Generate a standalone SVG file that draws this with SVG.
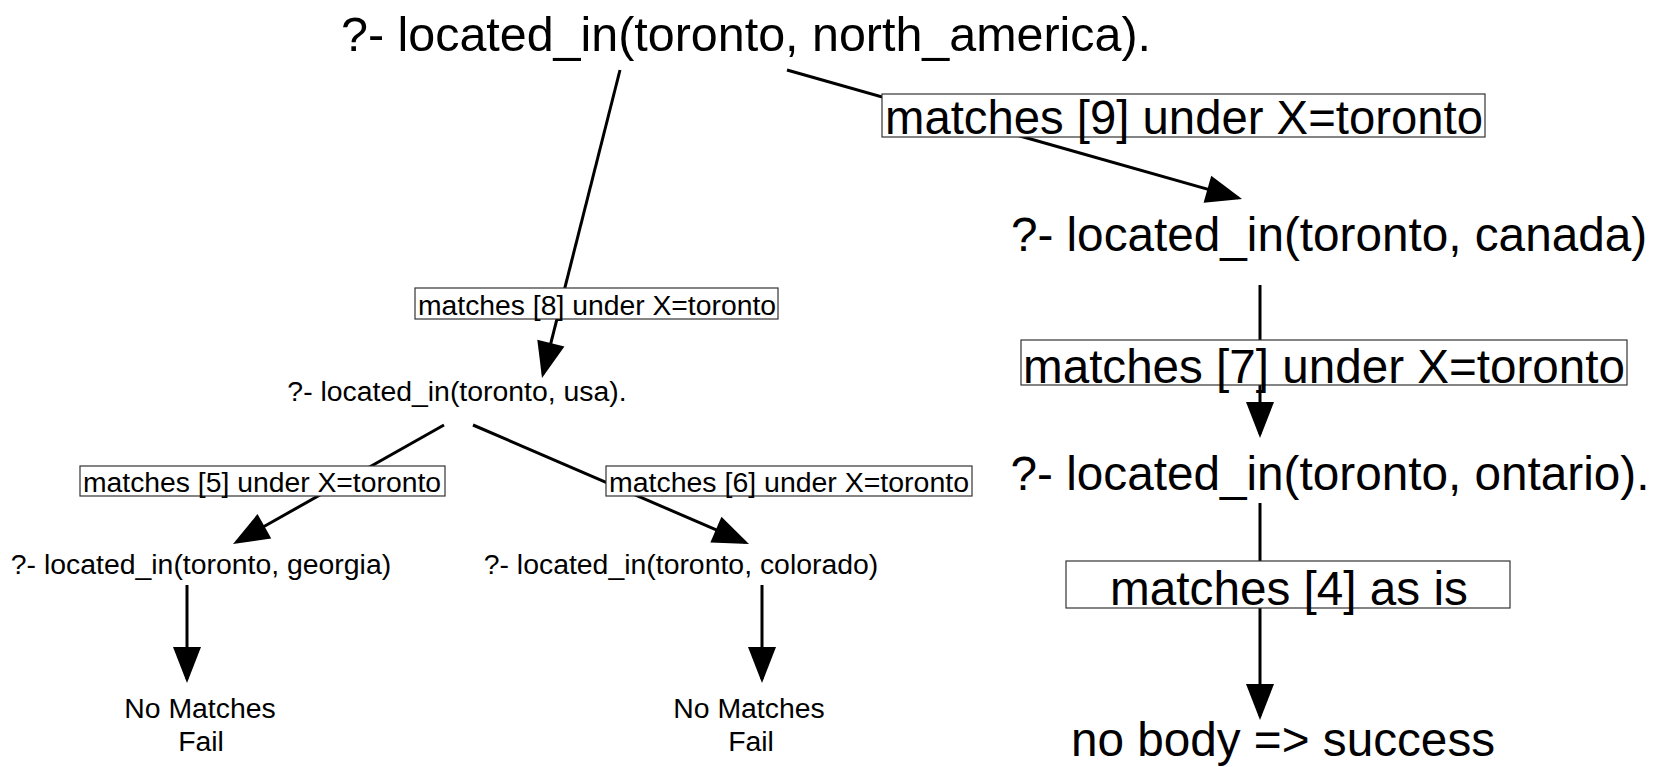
<svg xmlns="http://www.w3.org/2000/svg" width="1667" height="767" viewBox="0 0 1667 767">
<style>
text{font-family:"Liberation Sans",Arial,sans-serif;fill:#000}
.big{font-size:47.7px}
.sm{font-size:28.4px}
.mid{text-anchor:middle}
.edge{stroke:#000;stroke-width:3;fill:none;marker-end:url(#ah)}
.lbox{fill:#fff;stroke:#333;stroke-width:1.2}
</style>
<defs>
<marker id="ah" markerUnits="userSpaceOnUse" markerWidth="36" markerHeight="28" refX="32" refY="14" orient="auto" overflow="visible">
<path d="M0,0 L36,14 L0,28 Z" fill="#000"/>
</marker>
</defs>
<rect width="1667" height="767" fill="#fff"/>
<g id="connectors">
<path class="edge" d="M620,70 L543,374.1"/>
<path class="edge" d="M787,70 L1238.2,197.9"/>
<path class="edge" d="M444,425 L236.5,542"/>
<path class="edge" d="M473,425 L745.3,542.4"/>
<path class="edge" d="M187,585 L187,679"/>
<path class="edge" d="M762,585 L762,679"/>
<path class="edge" d="M1260,285 L1260,434"/>
<path class="edge" d="M1260,503 L1260,716"/>
</g>
<g id="edge-labels">
<g id="label9"><rect class="lbox" x="882" y="94" width="603" height="43"/><text class="big" x="885" y="134" textLength="598" lengthAdjust="spacingAndGlyphs">matches [9] under X=toronto</text></g>
<g id="label8"><rect class="lbox" x="415" y="288" width="363" height="31"/><text class="sm" x="418" y="315" textLength="358" lengthAdjust="spacingAndGlyphs">matches [8] under X=toronto</text></g>
<g id="label5"><rect class="lbox" x="80" y="466" width="365" height="30"/><text class="sm" x="83" y="492" textLength="358" lengthAdjust="spacingAndGlyphs">matches [5] under X=toronto</text></g>
<g id="label6"><rect class="lbox" x="606" y="466" width="366" height="30"/><text class="sm" x="609" y="492" textLength="360" lengthAdjust="spacingAndGlyphs">matches [6] under X=toronto</text></g>
<g id="label7"><rect class="lbox" x="1021" y="340" width="606" height="45"/><text class="big" x="1023" y="383" textLength="602" lengthAdjust="spacingAndGlyphs">matches [7] under X=toronto</text></g>
<g id="label4"><rect class="lbox" x="1066" y="561" width="444" height="47"/><text class="big mid" x="1289" y="605">matches [4] as is</text></g>
</g>
<g id="n-north-america"><text class="big mid" x="746" y="51" textLength="810" lengthAdjust="spacingAndGlyphs">?- located_in(toronto, north_america).</text></g>
<g id="n-usa"><text class="sm mid" x="457" y="401">?- located_in(toronto, usa).</text></g>
<g id="n-georgia"><text class="sm mid" x="201" y="574">?- located_in(toronto, georgia)</text></g>
<g id="n-colorado"><text class="sm mid" x="681" y="574">?- located_in(toronto, colorado)</text></g>
<g id="n-fail1"><text class="sm mid" x="200" y="718">No Matches</text><text class="sm mid" x="201" y="751">Fail</text></g>
<g id="n-fail2"><text class="sm mid" x="749" y="718">No Matches</text><text class="sm mid" x="751" y="751">Fail</text></g>
<g id="n-canada"><text class="big mid" x="1329" y="251">?- located_in(toronto, canada)</text></g>
<g id="n-ontario"><text class="big mid" x="1330" y="490">?- located_in(toronto, ontario).</text></g>
<g id="n-success"><text class="big mid" x="1283" y="756">no body =&gt; success</text></g>
</svg>
